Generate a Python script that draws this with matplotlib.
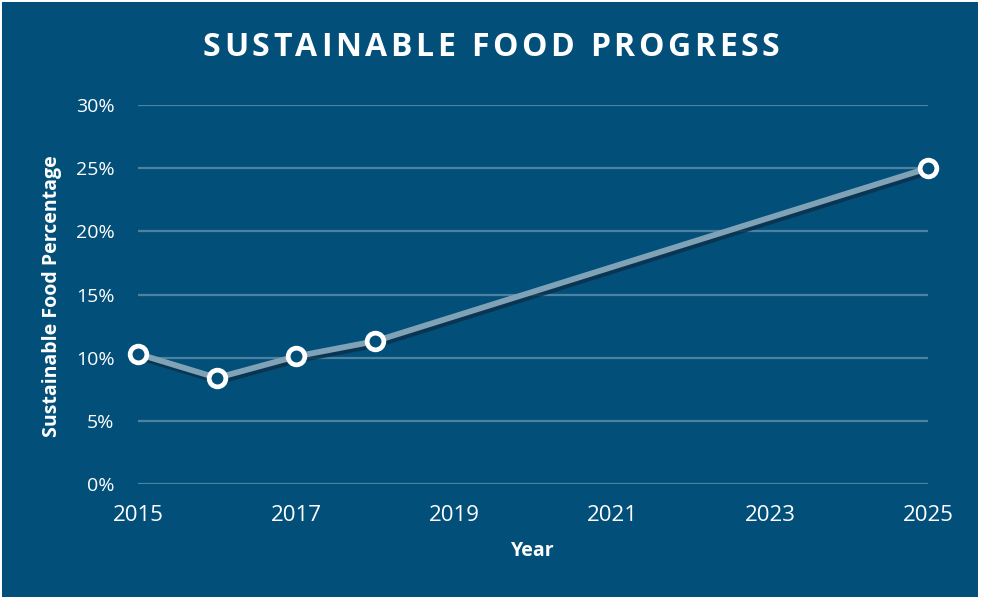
import matplotlib
matplotlib.use("Agg")
import matplotlib.pyplot as plt
import matplotlib.patheffects as pe
from matplotlib.patches import Rectangle
from matplotlib.ticker import FuncFormatter

# data
years = [2015, 2016, 2017, 2018, 2025]
pct = [10.3, 8.4, 10.1, 11.3, 25.0]
xticks = [2015, 2017, 2019, 2021, 2023, 2025]
yticks = [0, 5, 10, 15, 20, 25, 30]

BG = "#02507a"
GRID = "#4d81a0"
LINE = "#7fa2b7"
W, H = 982, 599

plt.rcParams["font.family"] = ["Open Sans", "DejaVu Sans"]

fig = plt.figure(figsize=(W / 100, H / 100), dpi=100, facecolor="white")
fig.patches.append(Rectangle((2 / W, 2 / H), 976 / W, 595 / H,
                             transform=fig.transFigure, facecolor=BG,
                             edgecolor="none", zorder=-10))


def spaced_text(xc, yc, s, gap, **kw):
    # draw a string centred at (xc, yc) pixels with extra letter spacing
    r = fig.canvas.get_renderer()
    def width(txt):
        t = fig.text(0, 0, txt, **kw)
        w = t.get_window_extent(r).width
        t.remove()
        return w
    ws = []
    for ch in s:
        if ch == " ":
            ws.append(width("A A") - width("AA"))
        else:
            ws.append(width(ch))
    total = sum(ws) + gap * (len(s) - 1)
    x = xc - total / 2
    for ch, w in zip(s, ws):
        if ch != " ":
            fig.text(x / W, yc / H, ch, ha="left", va="center", **kw)
        x += w + gap


ax = fig.add_axes([138 / W, 1 - 484 / H, 790 / W, 379 / H])
ax.set_facecolor("none")
ax.set_xlim(2015, 2025)
ax.set_ylim(0, 30)

for y in yticks:
    ax.axhline(y, color=GRID, lw=1.6, zorder=1)

ax.plot(years, pct, color=LINE, lw=4.2, solid_capstyle="round", zorder=3,
        path_effects=[pe.SimpleLineShadow(offset=(1.5, -2.5), shadow_color="#0b2f48", alpha=0.8),
                      pe.Normal()])
ax.plot(years, pct, ls="none", marker="o", ms=12, mfc=BG, mec="white", mew=3.4,
        zorder=4, clip_on=False)

ax.set_xticks(xticks)
ax.set_yticks(yticks)
ax.yaxis.set_major_formatter(FuncFormatter(lambda v, p: f"{v:.0f}%"))
ax.tick_params(axis="x", colors="white", labelsize=16, length=0, pad=15)
ax.tick_params(axis="y", colors="white", labelsize=14, length=0, pad=17)
for s in ax.spines.values():
    s.set_visible(False)

ax.set_xlabel("Year", color="white", fontsize=14, fontweight="bold")
ax.xaxis.set_label_coords(0.5, -(551 - 484) / 379)
ax.xaxis.label.set_va("center")
ax.set_ylabel("Sustainable Food Percentage", color="white", fontsize=14,
              fontweight="bold")
ax.yaxis.set_label_coords(-(138 - 62) / 790, 0.496)

spaced_text(W / 2, H - 48, "SUSTAINABLE FOOD PROGRESS", 3.6, color="white",
            fontsize=23, fontweight="bold")

fig.savefig("out.png", dpi=100, facecolor="white")
